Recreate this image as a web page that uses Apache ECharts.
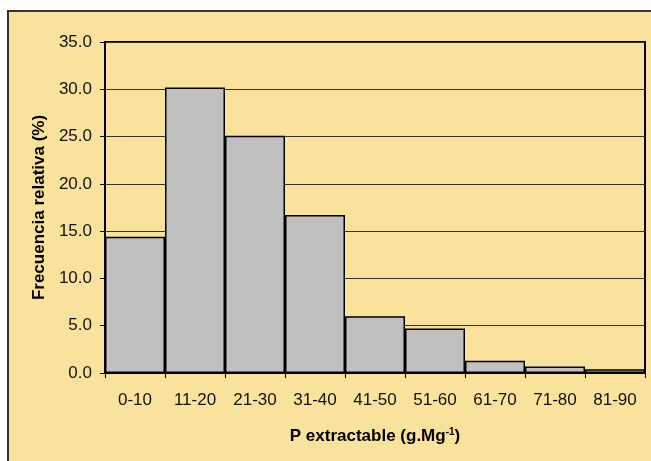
<!DOCTYPE html>
<html>
<head>
<meta charset="utf-8">
<script src="https://cdn.jsdelivr.net/npm/echarts@6/dist/echarts.min.js"></script>
<style>
  html, body { margin: 0; padding: 0; background: #ffffff; }
  #chart { width: 651px; height: 461px; }
</style>
</head>
<body>
<div id="chart"></div>
<script>
// Extractable P classes (g.Mg-1) and their relative frequency (%)
const categories = ['0-10', '11-20', '21-30', '31-40', '41-50', '51-60', '61-70', '71-80', '81-90'];
const frequency = [14.4, 30.2, 25.1, 16.7, 6.0, 4.7, 1.3, 0.7, 0.4];
const yTicks = { min: 0, max: 35, step: 5 };

const FONT = '"Liberation Sans", Arial, sans-serif';
const BG = '#F9E29B';

const chart = echarts.init(document.getElementById('chart'), null, { renderer: 'canvas' });

chart.setOption({
  backgroundColor: '#ffffff',
  animation: false,
  graphic: [{
    type: 'rect',
    z: -10,
    shape: { x: 8, y: 11, width: 700, height: 500 },
    style: { fill: BG, stroke: '#333333', lineWidth: 2 }
  }],
  grid: {
    left: 105, top: 42, right: 6, bottom: 88,
    show: true, borderColor: '#000000', borderWidth: 2,
    backgroundColor: 'transparent'
  },
  xAxis: {
    type: 'category',
    data: categories,
    name: 'P extractable (g.Mg{sup|-1})',
    nameLocation: 'middle',
    nameGap: 54,
    nameTextStyle: {
      fontFamily: FONT, fontSize: 17, fontWeight: 'bold', color: '#000',
      rich: { sup: { fontFamily: FONT, fontSize: 10, fontWeight: 'bold', color: '#000', verticalAlign: 'top', padding: [0, 0, 9, 0] } }
    },
    axisLine: { lineStyle: { color: '#000', width: 2 } },
    axisTick: { show: true, alignWithLabel: false, length: 5, lineStyle: { color: '#000', width: 1 } },
    axisLabel: { fontFamily: FONT, fontSize: 17, color: '#111', margin: 19 },
    splitLine: { show: false }
  },
  yAxis: {
    type: 'value',
    min: yTicks.min,
    max: yTicks.max,
    interval: yTicks.step,
    name: 'Frecuencia relativa (%)',
    nameLocation: 'middle',
    nameGap: 55,
    nameTextStyle: { fontFamily: FONT, fontSize: 17, fontWeight: 'bold', color: '#000' },
    axisLine: { show: true, lineStyle: { color: '#000', width: 2 } },
    axisTick: { show: true, length: 5, lineStyle: { color: '#000', width: 1 } },
    axisLabel: { fontFamily: FONT, fontSize: 17, color: '#111', margin: 13, formatter: v => v.toFixed(1) },
    splitLine: { show: true, lineStyle: { color: '#333', width: 1 } }
  },
  series: [{
    type: 'bar',
    data: frequency,
    barCategoryGap: '0%',
    itemStyle: { color: '#C0C0C0', borderColor: '#000', borderWidth: 1.5 }
  }]
});
</script>
</body>
</html>
